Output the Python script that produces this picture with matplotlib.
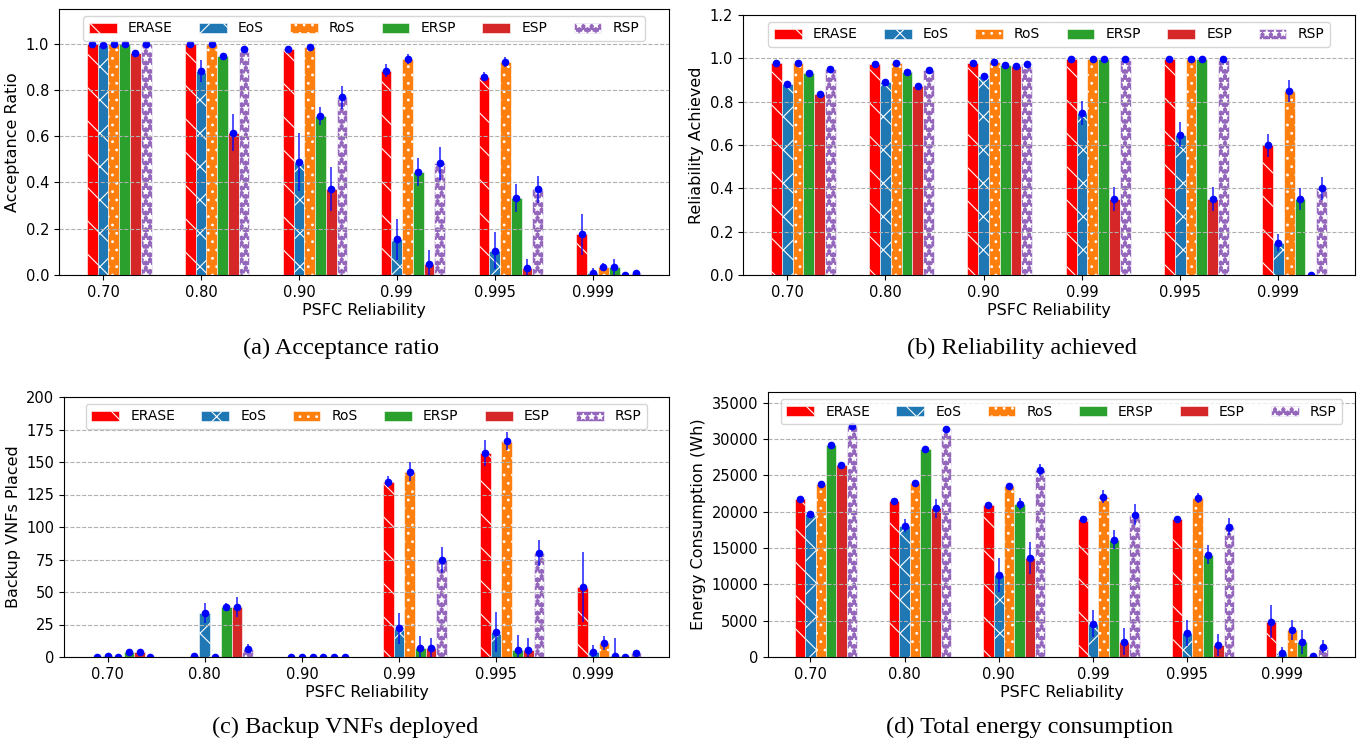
import matplotlib.pyplot as plt
import numpy as np

reliability = ['0.70', '0.80', '0.90', '0.99', '0.995', '0.999']
methods = ['ERASE', 'EoS', 'RoS', 'ERSP', 'ESP', 'RSP']
colors = ['red', 'tab:blue', 'tab:orange', 'tab:green', 'tab:red', 'tab:purple']
hatches = ['\\', 'x', '..', '', '', '**']

# rows follow `methods`, columns follow `reliability`
acc_mean = [
    [1.0, 1.0, 0.977, 0.884, 0.858, 0.176],
    [0.995, 0.883, 0.488, 0.154, 0.105, 0.01],
    [1.0, 1.0, 0.986, 0.934, 0.921, 0.036],
    [1.0, 0.945, 0.687, 0.444, 0.333, 0.036],
    [0.96, 0.614, 0.372, 0.046, 0.029, 0.0],
    [1.0, 0.977, 0.769, 0.483, 0.371, 0.007],
]
acc_err = [
    [0.0, 0.0, 0.005, 0.03, 0.02, 0.088],
    [0.005, 0.048, 0.127, 0.087, 0.08, 0.02],
    [0.0, 0.0, 0.005, 0.02, 0.02, 0.015],
    [0.0, 0.01, 0.04, 0.06, 0.06, 0.035],
    [0.01, 0.08, 0.095, 0.06, 0.04, 0.0],
    [0.0, 0.005, 0.05, 0.071, 0.058, 0.005],
]

rel_mean = [
    [0.977, 0.975, 0.978, 0.997, 0.997, 0.598],
    [0.882, 0.889, 0.92, 0.748, 0.648, 0.149],
    [0.98, 0.98, 0.983, 0.997, 0.997, 0.851],
    [0.931, 0.935, 0.969, 0.997, 0.997, 0.351],
    [0.837, 0.871, 0.963, 0.351, 0.351, 0.0],
    [0.949, 0.946, 0.975, 0.997, 0.997, 0.4],
]
rel_err = [
    [0.005, 0.005, 0.005, 0.0, 0.0, 0.055],
    [0.005, 0.008, 0.005, 0.056, 0.057, 0.04],
    [0.005, 0.005, 0.005, 0.0, 0.0, 0.051],
    [0.005, 0.005, 0.005, 0.0, 0.0, 0.049],
    [0.005, 0.005, 0.005, 0.057, 0.057, 0.0],
    [0.005, 0.005, 0.005, 0.0, 0.0, 0.052],
]

backup_mean = [
    [0, 1, 0, 135, 157, 54],
    [0.5, 34, 0, 22, 19, 3.5],
    [0, 0, 0, 142.5, 166, 11],
    [3.8, 38.5, 0, 7, 5.5, 0.5],
    [3.8, 38.5, 0, 7, 5.5, 0.3],
    [0.3, 6.5, 0, 74.5, 80, 3],
]
backup_err = [
    [0, 1, 0, 4.5, 9.8, 27],
    [0.5, 7.5, 0, 12, 15.4, 6],
    [0, 0, 0, 7.3, 7.1, 5.5],
    [1.5, 3, 0, 9.5, 11.5, 14],
    [1.5, 7.5, 0, 8, 9.5, 0.5],
    [0.5, 3.5, 0, 9.8, 10, 1.5],
]

energy_mean = [
    [21700, 21500, 20900, 19050, 19050, 4850],
    [19700, 18050, 11300, 4600, 3300, 600],
    [23800, 23900, 23550, 22100, 21950, 3700],
    [29250, 28650, 21050, 16150, 14100, 2100],
    [26500, 20500, 13600, 2100, 1650, 100],
    [31850, 31450, 25800, 19600, 17950, 1400],
]
energy_err = [
    [200, 250, 250, 400, 350, 2300],
    [250, 900, 2300, 1850, 1850, 750],
    [250, 250, 300, 850, 700, 1350],
    [250, 450, 800, 1300, 1300, 1650],
    [350, 1300, 2200, 1850, 1550, 100],
    [200, 200, 850, 1450, 1150, 900],
]

plt.rcParams['hatch.color'] = 'white'
plt.rcParams['hatch.linewidth'] = 0.8

W, H = 1358, 743
fig = plt.figure(figsize=(W / 100, H / 100), dpi=100)


def px_axes(left, right, top, bottom):
    return fig.add_axes([left / W, 1 - bottom / H, (right - left) / W, (bottom - top) / H])


def draw(ax, means, errs, ylabel, ylim, yticks):
    x = np.arange(len(reliability))
    w = 0.11
    for i, name in enumerate(methods):
        pos = x + (i - 1) * w
        ax.bar(pos, means[i], w, color=colors[i], hatch=hatches[i],
               edgecolor='white', linewidth=0.4, label=name)
        ax.errorbar(pos, means[i], yerr=errs[i], fmt='o', color='blue', ms=4.5,
                    elinewidth=1.3, ecolor=(0, 0, 1, 0.75))
    ax.set_xticks(x, reliability)
    ax.set_xlim(-0.45, 5.78)
    ax.set_ylim(*ylim)
    ax.set_yticks(yticks)
    ax.tick_params(labelsize=10.5)
    ax.set_xlabel('PSFC Reliability', fontsize=11.5, labelpad=2)
    ax.set_ylabel(ylabel, fontsize=11.5)
    ax.grid(axis='y', linestyle='--')
    ax.legend(loc='upper center', ncol=6, fontsize=10, columnspacing=1.9)


ax_a = px_axes(59, 669, 9, 275)
draw(ax_a, acc_mean, acc_err, 'Acceptance Ratio', (0, 1.15), np.arange(0, 1.01, 0.2))
ax_b = px_axes(743, 1355, 15, 275)
draw(ax_b, rel_mean, rel_err, 'Reliability Achieved', (0, 1.2), np.arange(0, 1.21, 0.2))
ax_c = px_axes(64, 669, 397, 657)
draw(ax_c, backup_mean, backup_err, 'Backup VNFs Placed', (0, 200), np.arange(0, 201, 25))
ax_d = px_axes(768, 1355, 392, 657)
draw(ax_d, energy_mean, energy_err, 'Energy Consumption (Wh)', (0, 36500), np.arange(0, 35001, 5000))

captions = [(341, 348, '(a) Acceptance ratio'), (1022, 348, '(b) Reliability achieved'),
            (345, 727, '(c) Backup VNFs deployed'), (1030, 727, '(d) Total energy consumption')]
for cx, cy, txt in captions:
    fig.text(cx / W, 1 - cy / H, txt, ha='center', va='center',
             family='Liberation Serif', fontsize=17.5)

fig.savefig('out.png', dpi=100)
